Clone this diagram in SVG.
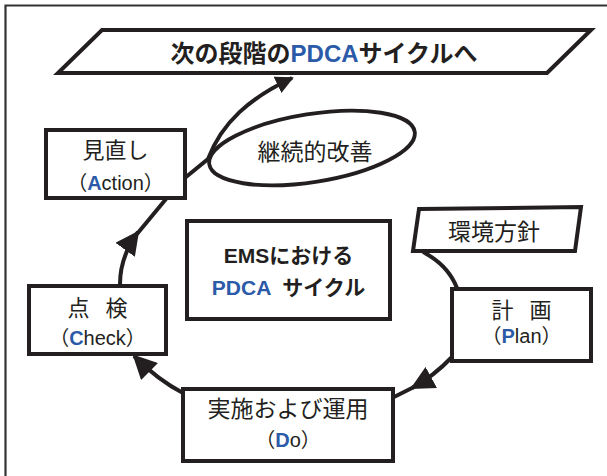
<svg xmlns="http://www.w3.org/2000/svg" width="607" height="476" viewBox="0 0 607 476">
<style>
text{font-family:"Liberation Sans","Noto Sans CJK JP",sans-serif;fill:#231f20;text-anchor:middle}
.lbl{font-size:22px}
.sub{font-size:20px}
.b{font-weight:bold}
.blue{fill:#2b5aa8;font-weight:bold}
.shape{fill:#fff;stroke:#231f20;stroke-width:4}
.conn{fill:none;stroke:#231f20;stroke-width:4}
</style>
<defs>
<marker id="ah" viewBox="0 0 24 24" refX="22" refY="12" markerWidth="24" markerHeight="24" markerUnits="userSpaceOnUse" orient="auto">
<path d="M0,0 L24,12 L0,24 z" fill="#231f20"/>
</marker>
<marker id="ahs" viewBox="0 0 18 18" refX="16" refY="9" markerWidth="18" markerHeight="18" markerUnits="userSpaceOnUse" orient="auto">
<path d="M0,0 L18,9 L0,18 z" fill="#231f20"/>
</marker>
</defs>
<rect width="607" height="476" fill="#fff"/>
<path d="M5.5,476 V5.5 H607" fill="none" stroke="#333" stroke-width="2.2"/>

<g id="connectors">
<path class="conn" d="M120,284 C120,266 125,250 138,232" marker-end="url(#ah)"/>
<path class="conn" d="M137,234 L166,199"/>
<path class="conn" d="M186,177 L208,159 C222,122 250,98 292,78" marker-end="url(#ahs)"/>
<path class="conn" d="M183,393 Q158,380 134,356" marker-end="url(#ah)"/>
<path class="conn" d="M452,357 Q434,376 412,388" marker-end="url(#ah)"/>
<path class="conn" d="M414,387 L394,397"/>
<path class="conn" d="M423,252 Q448,265 457,288"/>
</g>

<g id="next-cycle">
<polygon class="shape" points="102,30 591,30 547,73 58,73"/>
<text x="324" y="62" style="font-size:24px" class="b">次の段階の<tspan class="blue">PDCA</tspan>サイクルへ</text>
</g>

<g id="kaizen">
<ellipse cx="312" cy="148" rx="104" ry="34" transform="rotate(-9 312 148)" fill="none" stroke="#231f20" stroke-width="3.8"/>
<text x="315" y="160" class="lbl" style="font-size:23px">継続的改善</text>
</g>

<g id="action">
<rect class="shape" x="46" y="130" width="139" height="68"/>
<text x="115.5" y="158" class="lbl">見直し</text>
<text x="115.5" y="190" class="sub">（<tspan class="blue">A</tspan>ction）</text>
</g>

<g id="check">
<rect class="shape" x="29" y="286" width="137" height="68"/>
<text x="97.5" y="316" class="lbl" xml:space="preserve" word-spacing="10">点 検</text>
<text x="97.5" y="345" class="sub">（<tspan class="blue">C</tspan>heck）</text>
</g>

<g id="ems">
<rect class="shape" x="187" y="221" width="203" height="98"/>
<text x="288.5" y="263" class="b" style="font-size:21px">EMSにおける</text>
<text x="288.5" y="295" class="b" style="font-size:21px" xml:space="preserve"><tspan class="blue">PDCA</tspan>  サイクル</text>
</g>

<g id="policy">
<polygon class="shape" points="419,209 581,207 575,251 413,251"/>
<text x="494" y="240" class="lbl" style="font-size:23px">環境方針</text>
</g>

<g id="plan">
<rect class="shape" x="452" y="289" width="139" height="72"/>
<text x="521.5" y="318" class="lbl" xml:space="preserve" word-spacing="10">計 画</text>
<text x="521.5" y="343" class="sub">（<tspan class="blue">P</tspan>lan）</text>
</g>

<g id="do">
<rect class="shape" x="183" y="389" width="210" height="72"/>
<text x="288" y="417" class="lbl" style="font-size:23px">実施および運用</text>
<text x="288" y="447" class="sub">（<tspan class="blue">D</tspan>o）</text>
</g>
</svg>
